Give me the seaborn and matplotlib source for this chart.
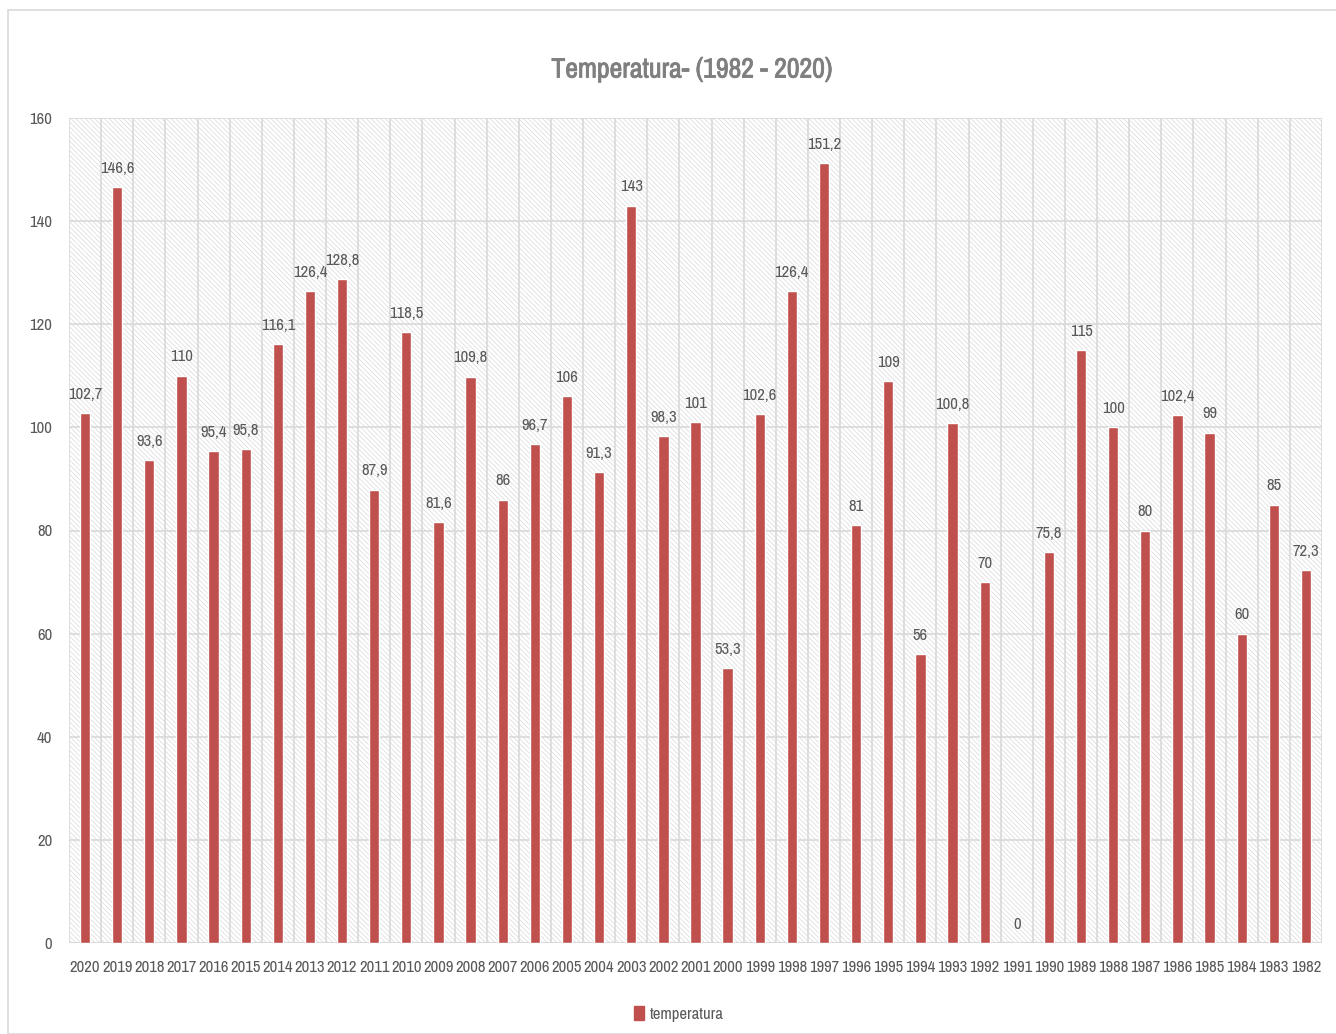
import matplotlib
matplotlib.use("Agg")
import matplotlib.pyplot as plt
import matplotlib.patches as mpatches
import matplotlib.patheffects as pe
from matplotlib import font_manager
import seaborn as sns

years = ['2020', '2019', '2018', '2017', '2016', '2015', '2014', '2013', '2012', '2011',
         '2010', '2009', '2008', '2007', '2006', '2005', '2004', '2003', '2002', '2001',
         '2000', '1999', '1998', '1997', '1996', '1995', '1994', '1993', '1992', '1991',
         '1990', '1989', '1988', '1987', '1986', '1985', '1984', '1983', '1982']
temperatura = [102.7, 146.6, 93.6, 110, 95.4, 95.8, 116.1, 126.4, 128.8, 87.9,
               118.5, 81.6, 109.8, 86, 96.7, 106, 91.3, 143, 98.3, 101,
               53.3, 102.6, 126.4, 151.2, 81, 109, 56, 100.8, 70, 0,
               75.8, 115, 100, 80, 102.4, 99, 60, 85, 72.3]
y_ticks = [0, 20, 40, 60, 80, 100, 120, 140, 160]

sns.set_style("white")

# look for a narrow font (the original uses a condensed face)
fl = font_manager.fontManager.ttflist
narrow = [f for f in fl if 'Narrow' in f.name or 'Condensed' in f.name]
if narrow:
    plt.rcParams['font.family'] = [narrow[0].name, 'DejaVu Sans']
    lbl_size, tick_size, title_size = 12, 12, 20
else:
    plt.rcParams['font.family'] = ['DejaVu Sans']
    lbl_size, tick_size, title_size = 9.5, 9.5, 18
plt.rcParams['hatch.linewidth'] = 0.5
plt.rcParams['hatch.color'] = '#d9d9d9'

bar_color = '#c0504d'
text_color = '#595959'
grid_color = '#d9d9d9'
title_color = '#7f7f7f'

fig = plt.figure(figsize=(13.36, 10.34), dpi=100)
ax = fig.add_axes([69 / 1336, 1 - 943 / 1034, (1322 - 69) / 1336, (943 - 118) / 1034])

# hatched plot background
bg = mpatches.Rectangle((0, 0), 1, 1, transform=ax.transAxes, facecolor='white',
                        edgecolor='#d9d9d9', hatch='\\' * 7, linewidth=0, zorder=0)
ax.add_patch(bg)

sns.barplot(x=years, y=temperatura, order=years, color=bar_color, width=0.32,
            saturation=1, ax=ax, zorder=3)

for i, v in enumerate(temperatura):
    lab = str(int(v)) if float(v).is_integer() else f"{v:.1f}".replace('.', ',')
    ax.text(i, v + 2.2, lab, ha='center', va='bottom', fontsize=lbl_size, color=text_color, zorder=4)

ax.set_xlim(-0.5, len(years) - 0.5)
ax.set_ylim(0, 160)
ax.set_yticks(y_ticks)
ax.set_xticks(range(len(years)), years)
ax.set_xticks([i + 0.5 for i in range(-1, len(years))], minor=True)
ax.tick_params(axis='both', which='both', length=0, labelsize=tick_size, colors=text_color)
ax.tick_params(axis='x', pad=12)
ax.tick_params(axis='y', pad=12)
ax.grid(axis='y', which='major', color=grid_color, linewidth=1.2, zorder=1)
ax.grid(axis='x', which='minor', color=grid_color, linewidth=1.2, zorder=1)
ax.grid(axis='x', which='major', visible=False)
ax.set_axisbelow(True)
for s in ax.spines.values():
    s.set_visible(False)
ax.axhline(0, color=grid_color, linewidth=1.5, zorder=2)

# no bold narrow face available, so thicken the title with a thin stroke
fig.text(0.518, 1 - 70 / 1034, 'Temperatura- (1982 - 2020)', ha='center', va='center',
         fontsize=title_size, color=title_color,
         path_effects=[pe.withStroke(linewidth=0.6, foreground=title_color)])

handle = mpatches.Patch(color=bar_color, label='temperatura')
fig.legend(handles=[handle], loc='center', bbox_to_anchor=(0.508, 1 - 1014 / 1034),
           frameon=False, fontsize=tick_size, handlelength=0.6, handleheight=0.9,
           handletextpad=0.3, labelcolor=text_color)

# outer chart border
border = mpatches.Rectangle((8 / 1336, 0.0), 1 - 8 / 1336 + 0.01, 1 - 10 / 1034,
                            transform=fig.transFigure, fill=False, edgecolor='#d9d9d9',
                            linewidth=1.2)
fig.patches.append(border)

fig.savefig('out.png', dpi=100)
